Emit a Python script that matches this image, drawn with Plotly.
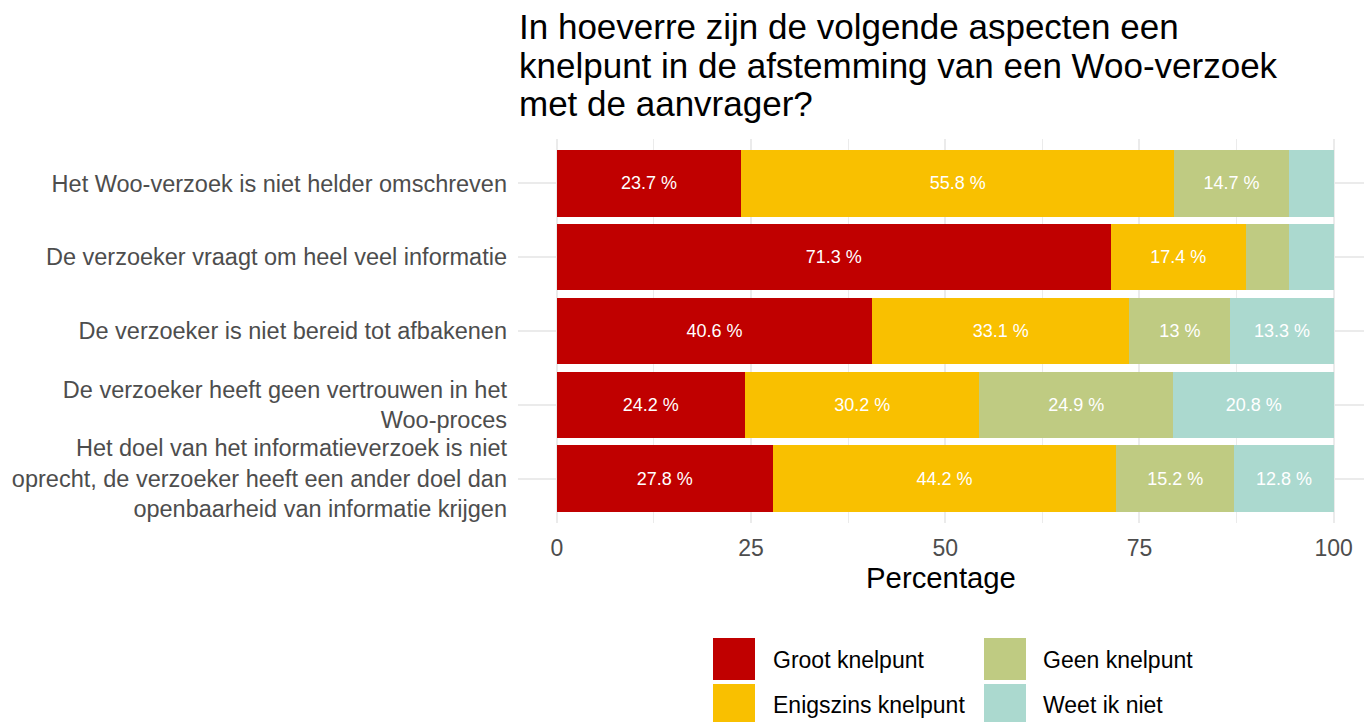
import plotly.graph_objects as go

categories = [
    "Het Woo-verzoek is niet helder omschreven",
    "De verzoeker vraagt om heel veel informatie",
    "De verzoeker is niet bereid tot afbakenen",
    "De verzoeker heeft geen vertrouwen in het<br>Woo-proces",
    "Het doel van het informatieverzoek is niet<br>oprecht, de verzoeker heeft een ander doel dan<br>openbaarheid van informatie krijgen",
]
series_names = ["Groot knelpunt", "Enigszins knelpunt", "Geen knelpunt", "Weet ik niet"]
groot = [23.7, 71.3, 40.6, 24.2, 27.8]
enigszins = [55.8, 17.4, 33.1, 30.2, 44.2]
geen = [14.7, 5.6, 13.0, 24.9, 15.2]
weet = [5.8, 5.7, 13.3, 20.8, 12.8]
series_values = [groot, enigszins, geen, weet]
colors = ["#C00000", "#F9C000", "#BFCB82", "#ABD9CF"]
x_ticks = [0, 25, 50, 75, 100]
title_lines = [
    "In hoeverre zijn de volgende aspecten een",
    "knelpunt in de afstemming van een Woo-verzoek",
    "met de aanvrager?",
]

FONT = "Liberation Sans, Arial, sans-serif"
W, H = 1364, 722
ML, MR, MT, MB = 518, 0, 139, 199
PH = H - MT - MB


def py(p):
    return (H - MB - p) / PH


def px(p):
    return (p - ML) / (W - ML - MR)


fig = go.Figure()
for name, vals, col in zip(series_names, series_values, colors):
    fig.add_trace(go.Bar(
        y=categories, x=vals, name=name, orientation="h",
        marker=dict(color=col, line=dict(width=0)),
        width=0.9,
        text=[f"{v:g} %" if v >= 10 else "" for v in vals],
        textposition="inside", insidetextanchor="middle",
        textfont=dict(color="white", size=18, family=FONT),
        textangle=0, constraintext="none",
        showlegend=False, hoverinfo="x+y",
    ))

annotations = []
title_y = [27, 65, 103.5]
for line, yy in zip(title_lines, title_y):
    annotations.append(dict(
        text=line, xref="paper", yref="paper", x=px(517), y=py(yy),
        xanchor="left", yanchor="middle", showarrow=False,
        font=dict(size=35, color="black", family=FONT),
    ))

shapes = []
key_pos = [(713, 638), (713, 684), (984, 638), (984, 684)]
text_pos = [(771, 659.5), (771, 705), (1041, 659.5), (1041, 705)]
for name, col, (kx, ky), (tx, ty) in zip(series_names, colors, key_pos, text_pos):
    shapes.append(dict(
        type="rect", xref="paper", yref="paper",
        x0=px(kx), x1=px(kx + 42), y0=py(ky), y1=py(ky + 42),
        fillcolor=col, line=dict(width=0), layer="above",
    ))
    annotations.append(dict(
        text=name, xref="paper", yref="paper", x=px(tx), y=py(ty),
        xanchor="left", yanchor="middle", showarrow=False,
        font=dict(size=23, color="black", family=FONT),
    ))

fig.update_layout(
    width=W, height=H,
    barmode="stack",
    bargap=0.1,
    plot_bgcolor="white", paper_bgcolor="white",
    margin=dict(l=ML, r=MR, t=MT, b=MB, pad=0),
    font=dict(family=FONT, color="#4D4D4D"),
    annotations=annotations,
    shapes=shapes,
    xaxis=dict(
        range=[-5, 103.9], tickvals=x_ticks, ticktext=[str(t) for t in x_ticks],
        showgrid=True, gridcolor="#EBEBEB", gridwidth=2,
        minor=dict(tick0=0, dtick=12.5, showgrid=True, gridcolor="#EBEBEB", gridwidth=1),
        zeroline=False, showline=False, ticks="",
        tickfont=dict(size=23, color="#4D4D4D", family=FONT),
        ticklabelstandoff=9,
        title=dict(text="Percentage", font=dict(size=29.3, color="black", family=FONT), standoff=5),
        fixedrange=True,
    ),
    yaxis=dict(
        categoryorder="array", categoryarray=categories,
        range=[4.6, -0.6],
        showgrid=True, gridcolor="#EBEBEB", gridwidth=2,
        zeroline=False, showline=False, ticks="",
        tickfont=dict(size=23.5, color="#4D4D4D", family=FONT),
        ticklabelstandoff=10,
        fixedrange=True,
    ),
)

fig.write_html(
    "out.html",
    config={"displayModeBar": False},
    post_script="document.body.style.margin='0';document.body.style.overflow='hidden';",
)
